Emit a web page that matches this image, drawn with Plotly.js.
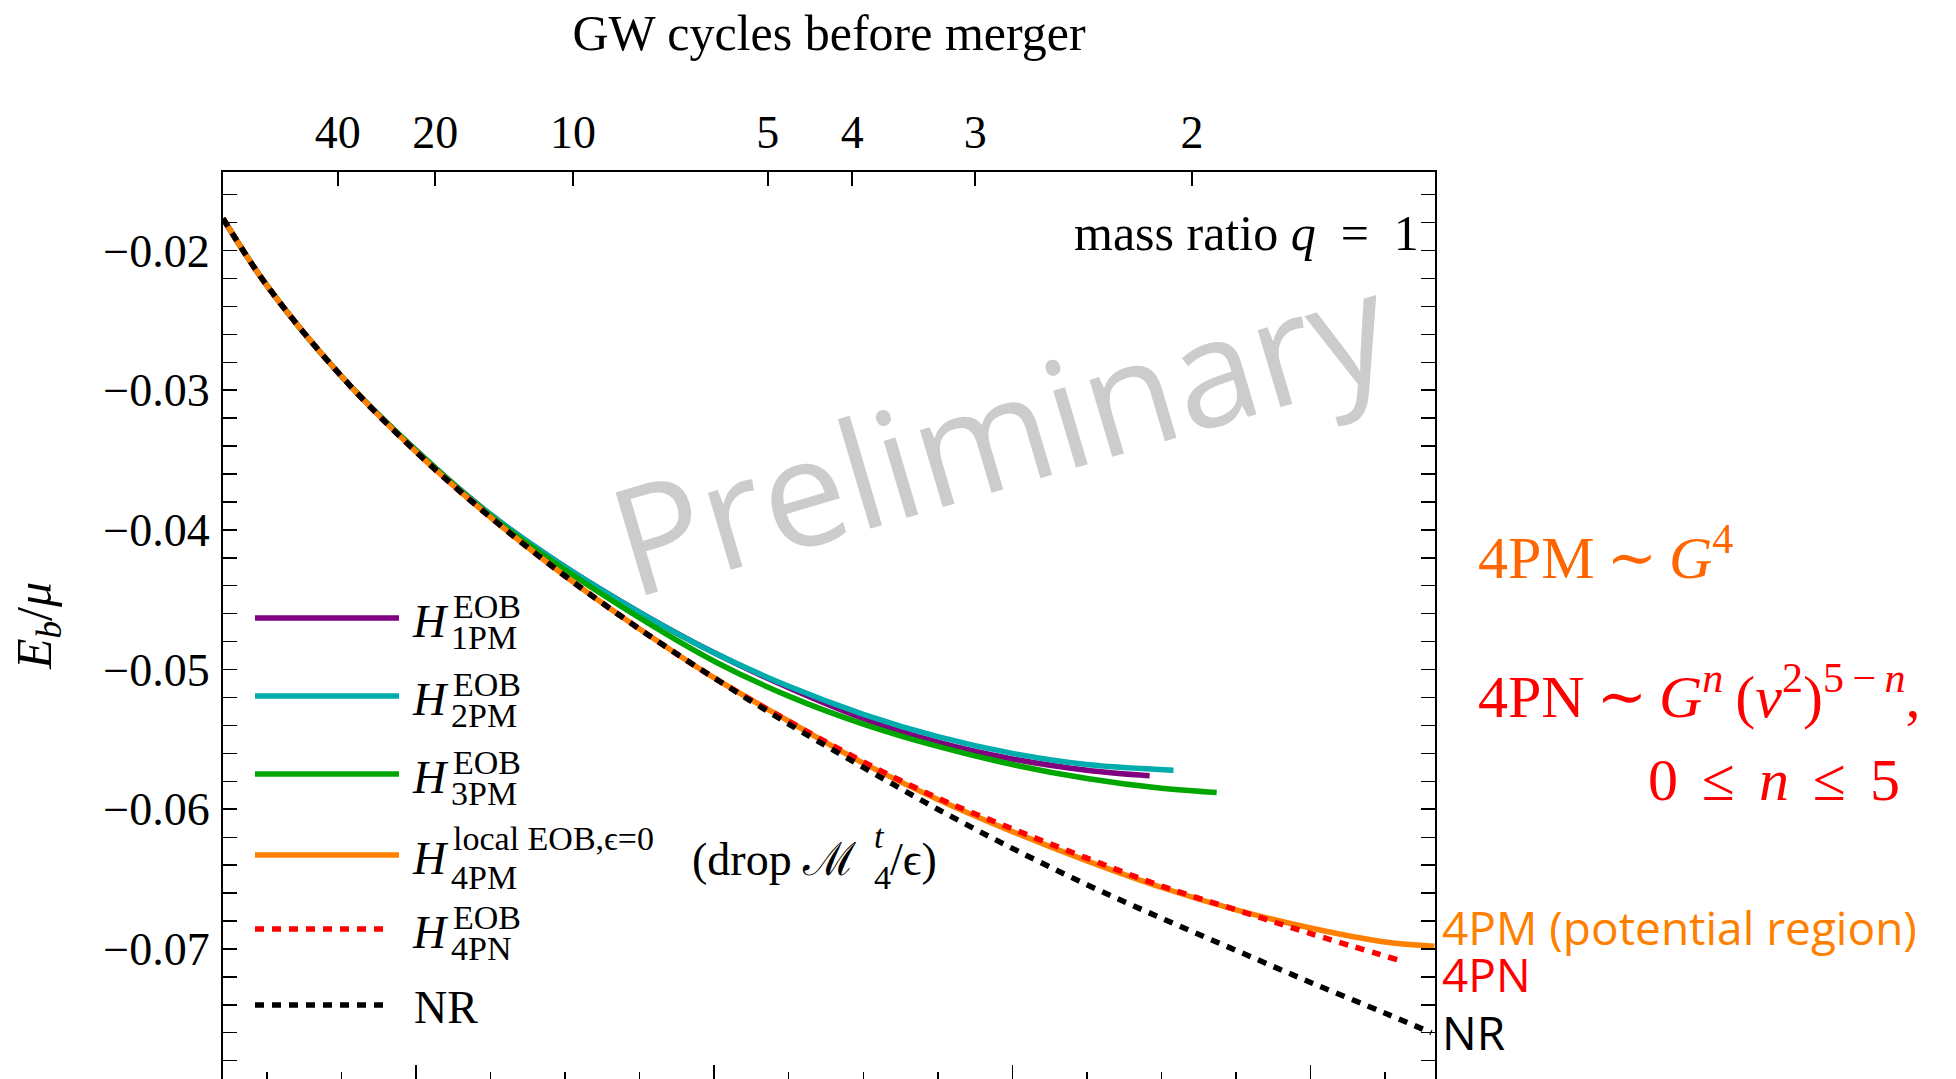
<!DOCTYPE html>
<html>
<head>
<meta charset="utf-8">
<script src="https://cdn.plot.ly/plotly-3.0.1.min.js"></script>
<style>
  html, body { margin: 0; padding: 0; background: #fff; overflow: hidden; }
  #chart { width: 1956px; height: 1079px; }
</style>
</head>
<body>
<div id="chart"></div>
<script>
// Orbital frequency M*omega (bottom axis) and binding energy E_b/mu, equal masses.
const omegaNR = [0.00706, 0.010, 0.015, 0.020, 0.025, 0.030, 0.035, 0.040, 0.045, 0.050, 0.055, 0.060, 0.065, 0.070, 0.075, 0.080, 0.085, 0.0881];
const ebNR    = [-0.0177, -0.0225, -0.0290, -0.0344, -0.0391, -0.0433, -0.0471, -0.0506, -0.0539, -0.0570, -0.0600, -0.0628, -0.0654, -0.0678, -0.0701, -0.0724, -0.0746, -0.0760];

const omega1PM = [0.00706, 0.010, 0.015, 0.020, 0.025, 0.0295, 0.035, 0.040, 0.045, 0.050, 0.055, 0.060, 0.065, 0.0692];
const eb1PM    = [-0.0177, -0.0225, -0.0290, -0.0343, -0.0389, -0.0423, -0.0459, -0.0488, -0.0513, -0.0535, -0.0552, -0.0564, -0.0572, -0.0576];

const omega2PM = [0.00706, 0.010, 0.015, 0.020, 0.025, 0.0295, 0.035, 0.040, 0.045, 0.050, 0.055, 0.060, 0.065, 0.0708];
const eb2PM    = [-0.0177, -0.0225, -0.0290, -0.0343, -0.0389, -0.0423, -0.0459, -0.0488, -0.0512, -0.0532, -0.0548, -0.0560, -0.0568, -0.0572];

const omega3PM = [0.00706, 0.010, 0.015, 0.020, 0.025, 0.0295, 0.035, 0.040, 0.045, 0.050, 0.055, 0.060, 0.065, 0.070, 0.0737];
const eb3PM    = [-0.0177, -0.0225, -0.0290, -0.0343, -0.0390, -0.0425, -0.0463, -0.0494, -0.0519, -0.0539, -0.0555, -0.0568, -0.0578, -0.0585, -0.0588];

const omega4PM = [0.00706, 0.010, 0.015, 0.020, 0.025, 0.030, 0.035, 0.040, 0.045, 0.050, 0.055, 0.060, 0.065, 0.070, 0.075, 0.080, 0.085, 0.0883];
const eb4PM    = [-0.0177, -0.0225, -0.0290, -0.0344, -0.0391, -0.0433, -0.0471, -0.0506, -0.0537, -0.0567, -0.0593, -0.0616, -0.0637, -0.0656, -0.0672, -0.0685, -0.0695, -0.0698];

const omega4PN = [0.00706, 0.010, 0.015, 0.020, 0.025, 0.030, 0.035, 0.040, 0.045, 0.050, 0.055, 0.060, 0.065, 0.070, 0.075, 0.080, 0.0859];
const eb4PN    = [-0.0177, -0.0225, -0.0290, -0.0344, -0.0391, -0.0433, -0.0471, -0.0506, -0.0537, -0.0566, -0.0592, -0.0614, -0.0635, -0.0655, -0.0672, -0.0689, -0.0708];

// Top axis: gravitational-wave cycles left before merger, at their frequency.
const cycleLabels = ['40', '20', '10', '5', '4', '3', '2'];
const cycleOmega  = [0.01476, 0.02129, 0.03053, 0.04359, 0.04926, 0.05751, 0.07205];

const xRange = [0.00706, 0.08834];
const yRange = [-0.07931, -0.01438];

const COL = {
  p1: '#800080', p2: '#00adad', p3: '#00a600', p4: '#ff8000', pn: '#ff0000', nr: '#000000'
};
const LW = 5.5;
const DASH = '9px,8px';
const SERIF = 'Liberation Serif, DejaVu Serif, serif';
const SANS = 'Open Sans, Noto Sans, sans-serif';

const series = [
  {x: omega1PM, y: eb1PM, color: COL.p1, dash: 'solid'},
  {x: omega2PM, y: eb2PM, color: COL.p2, dash: 'solid'},
  {x: omega3PM, y: eb3PM, color: COL.p3, dash: 'solid'},
  {x: omega4PM, y: eb4PM, color: COL.p4, dash: 'solid'},
  {x: omega4PN, y: eb4PN, color: COL.pn, dash: DASH},
  {x: omegaNR,  y: ebNR,  color: COL.nr, dash: DASH}
];

const traces = series.map(s => ({
  type: 'scatter', mode: 'lines', x: s.x, y: s.y,
  line: {color: s.color, width: LW, dash: s.dash, shape: 'spline', smoothing: 1},
  hoverinfo: 'skip', showlegend: false, xaxis: 'x', yaxis: 'y'
}));
// Invisible trace that carries the top (cycles) axis.
traces.push({type: 'scatter', mode: 'lines', x: xRange, y: yRange, xaxis: 'x2', yaxis: 'y',
  line: {width: 0}, opacity: 0, hoverinfo: 'skip', showlegend: false});

// Plot frame in page pixels, used for placing text around the axes.
const L = 223, R = 1435, T = 172, B = 1079;
const px = X => (X - L) / (R - L);
const py = Y => (B - Y) / (B - T);

const annotations = [];
const shapes = [];
function note(text, X, Y, opts) {
  annotations.push(Object.assign({
    text: text, xref: 'paper', yref: 'paper', x: px(X), y: py(Y),
    xanchor: 'left', yanchor: 'middle', showarrow: false,
    font: {family: SERIF, size: 46, color: '#000'}
  }, opts || {}));
}
const small = {family: SERIF, size: 34, color: '#000'};

// Hand-built legend: long line samples with stacked super/subscripts.
const legendRows = [
  {color: COL.p1, dash: 'solid', sup: 'EOB', sub: '1PM', Y: 618},
  {color: COL.p2, dash: 'solid', sup: 'EOB', sub: '2PM', Y: 696},
  {color: COL.p3, dash: 'solid', sup: 'EOB', sub: '3PM', Y: 774},
  {color: COL.p4, dash: 'solid', sup: 'local EOB,ϵ=0', sub: '4PM', Y: 855, big: true},
  {color: COL.pn, dash: DASH, sup: 'EOB', sub: '4PN', Y: 929},
  {color: COL.nr, dash: DASH, plain: 'NR', Y: 1005}
];
legendRows.forEach(r => {
  const x1 = r.dash === 'solid' ? 399 : 390;
  shapes.push({type: 'line', xref: 'paper', yref: 'paper', x0: px(255), x1: px(x1), y0: py(r.Y), y1: py(r.Y),
    line: {color: r.color, width: LW, dash: r.dash}});
  if (r.plain) {
    note(r.plain, 412, r.Y + 2);
    return;
  }
  note('<i>H</i>', 410, r.Y + 3);
  note(r.sup, 451, r.Y - (r.big ? 17 : 12), {font: small});
  note(r.sub, 449, r.Y + (r.big ? 22 : 19), {font: small});
});
note('(drop ℳ', 690, 859);
note('<i>t</i>', 872, 836, {font: small});
note('4', 872, 877, {font: small});
note('/ϵ)', 888, 859);

// Labels inside and beside the frame.
note('mass ratio <i>q</i>\u2002=\u20021', 1421, 233, {xanchor: 'right', font: {family: SERIF, size: 50, color: '#000'}});
note('Preliminary', 999, 430, {xanchor: 'center', textangle: -16.5,
  font: {family: SANS, size: 150, color: '#cccccc'}});

const big = c => ({family: SERIF, size: 60, color: c});
const gap = '\u2009\u2009';
note('4PM\u2009∼\u2009<i>G</i><sup>4</sup>', 1476, 553, {font: big('#ff6600')});
note('4PN\u2009∼\u2009<i>G<sup>n</sup></i>\u2009(<i>v</i><sup>2</sup>)<sup>5\u2009−\u2009<i>n</i></sup>,', 1476, 692,
  {font: big('#ff0000')});
note('0' + gap + '≤' + gap + '<i>n</i>' + gap + '≤' + gap + '5', 1646, 780, {font: big('#ff0000')});

note('4PM (potential region)', 1440, 927, {font: {family: SANS, size: 46, color: '#ff8000'}});
note('4PN', 1440, 974, {font: {family: SANS, size: 46, color: '#ff0000'}});
note('NR', 1440, 1032, {font: {family: SANS, size: 46, color: '#000000'}});

const tickFont = {family: SERIF, size: 46, color: '#000'};

const layout = {
  width: 1956, height: 1079,
  margin: {l: L, r: 1956 - R, t: T, b: 0, pad: 0},
  paper_bgcolor: '#ffffff', plot_bgcolor: '#ffffff',
  showlegend: false,
  xaxis: {
    range: xRange, showgrid: false, zeroline: false, showline: false,
    ticks: 'inside', ticklen: 14, tickwidth: 1.6, tickcolor: '#000',
    tick0: 0, dtick: 0.02, showticklabels: false,
    minor: {dtick: 0.005, ticks: 'inside', ticklen: 7, tickwidth: 1.4, tickcolor: '#000', showgrid: false}
  },
  xaxis2: {
    overlaying: 'x', side: 'top', anchor: 'y', range: xRange,
    showgrid: false, zeroline: false, showline: true, linecolor: '#000', linewidth: 2,
    ticks: 'inside', ticklen: 14, tickwidth: 1.6, tickcolor: '#000',
    tickmode: 'array', tickvals: cycleOmega, ticktext: cycleLabels,
    tickfont: tickFont, ticklabelstandoff: 4,
    title: {text: 'GW cycles before merger', font: {family: SERIF, size: 50, color: '#000'}, standoff: 40}
  },
  yaxis: {
    range: yRange, showgrid: false, zeroline: false,
    showline: true, linecolor: '#000', linewidth: 2, mirror: 'allticks',
    ticks: 'inside', ticklen: 14, tickwidth: 1.6, tickcolor: '#000',
    tick0: 0, dtick: 0.01, tickformat: '.2f', tickfont: tickFont, ticklabelstandoff: 2,
    minor: {dtick: 0.002, ticks: 'inside', ticklen: 7, tickwidth: 1.4, tickcolor: '#000', showgrid: false},
    title: {text: '<i>E</i><sub><i>b</i></sub>/<i>μ</i>', font: {family: SERIF, size: 50, color: '#000'}, standoff: 36}
  },
  annotations: annotations,
  shapes: shapes
};

Plotly.newPlot('chart', traces, layout, {staticPlot: true, displayModeBar: false});
</script>
</body>
</html>
